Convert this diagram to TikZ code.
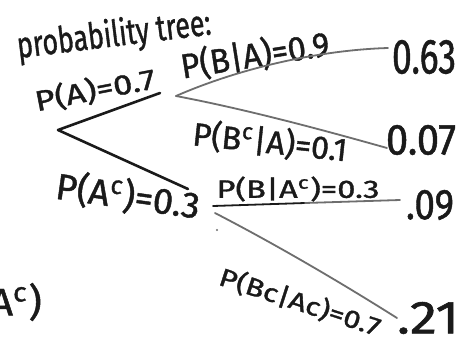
\documentclass[tikz,border=0pt]{standalone}
\usepackage{fontspec}
\usepackage{graphicx}
\setmainfont{Fira Sans}[FakeBold=1.2]
\definecolor{ink}{HTML}{1A1A1A}
\definecolor{pencil}{HTML}{6E6E6E}
\newcommand{\hw}[3]{\resizebox*{#1pt}{#2pt}{#3}}
\begin{document}
\begin{tikzpicture}[x=1pt,y=-1pt,
  lbl/.style={inner sep=0pt,text=ink},
  blk/.style={draw=ink,line width=2.6pt,line cap=round,line join=round},
  gry/.style={draw=pencil,line width=1.8pt,line cap=round}]
\useasboundingbox[fill=white] (0,0) rectangle (461,341);
% texts
\node[lbl,rotate=7] (title) at (114,36) {\hw{195}{36}{probability tree:}};
\node[lbl,rotate=11] (pa) at (95,90) {\hw{122}{28}{P(A)=0.7}};
\node[lbl,rotate=9] (pba) at (255,55) {\hw{150}{34}{P(B|A)=0.9}};
\node[lbl] (r1) at (424,57) {\hw{64}{34}{0.63}};
\node[lbl,rotate=-6] (pbca) at (270,142) {\hw{155}{32}{P(B\textsuperscript{c}|A)=0.1}};
\node[lbl] (r2) at (421,140) {\hw{70}{30}{0.07}};
\node[lbl,rotate=-8] (pac) at (128,196) {\hw{145}{36}{P(A\textsuperscript{c})=0.3}};
\node[lbl] (pbac) at (298,189) {\hw{163}{25}{P(B|A\textsuperscript{c})=0.3}};
\node[lbl] (r3) at (430,205) {\hw{48}{30}{.09}};
\node[lbl,rotate=-18] (pbcac) at (300,302) {\hw{168}{25}{P(Bc|Ac)=0.7}};
\node[lbl] (r4) at (428,318) {\hw{62}{32}{.21}};
\node[lbl,anchor=east] (cut) at (42,302) {\hw{52}{38}{A\textsuperscript{c})}};
% tree points
\coordinate (a1) at (160,93);
\coordinate (root) at (58,130);
\coordinate (a2) at (188,189);
\coordinate (b) at (176,96);
\coordinate (e1) at (388,48);
\coordinate (e2) at (387,148);
\coordinate (u1) at (213,206);
\coordinate (u2) at (400,200);
\coordinate (c) at (215,213);
\coordinate (e4) at (397,318);
% lines
\draw[blk] (a1) -- (root) -- (a2);
\draw[gry] (b) .. controls (240,68) and (320,50) .. (e1);
\draw[gry] (b) .. controls (250,110) and (330,132) .. (e2);
\draw[draw=ink,line width=1.8pt,line cap=round] (u1) -- (305,203);
\draw[gry] (305,203) -- (u2);
\draw[gry] (c) .. controls (275,244) and (340,282) .. (e4);
\fill[pencil] (217,230) circle (1.2);
\end{tikzpicture}
\end{document}
